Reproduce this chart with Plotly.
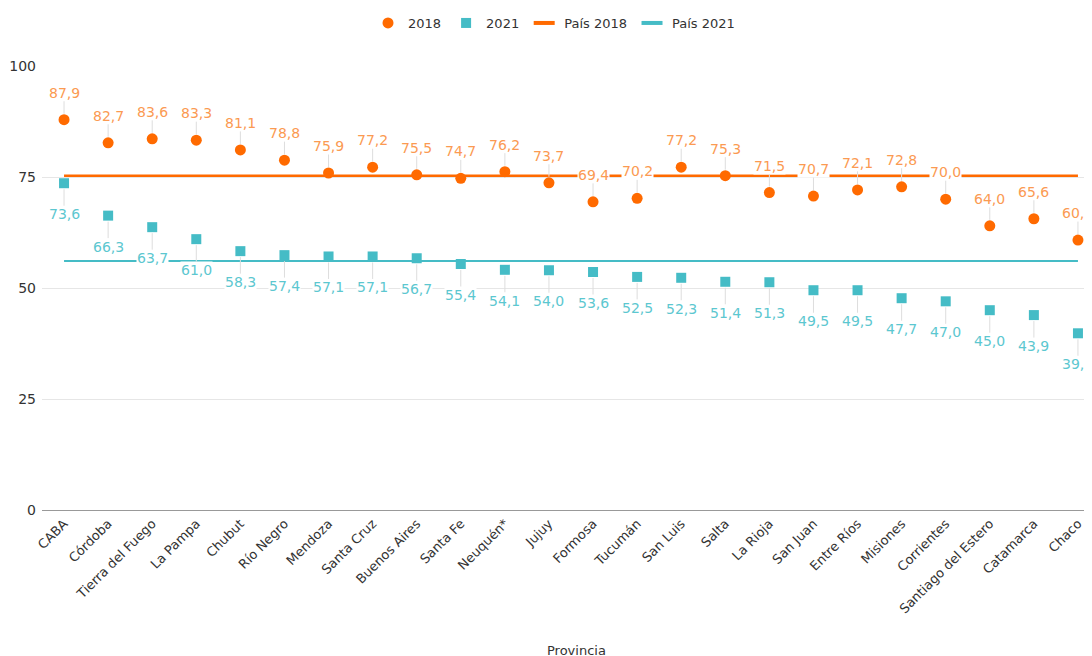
import plotly.graph_objects as go

provincias = ["CABA", "Córdoba", "Tierra del Fuego", "La Pampa", "Chubut", "Río Negro",
              "Mendoza", "Santa Cruz", "Buenos Aires", "Santa Fe", "Neuquén*", "Jujuy",
              "Formosa", "Tucumán", "San Luis", "Salta", "La Rioja", "San Juan",
              "Entre Ríos", "Misiones", "Corrientes", "Santiago del Estero", "Catamarca", "Chaco"]
v2018 = [87.9, 82.7, 83.6, 83.3, 81.1, 78.8, 75.9, 77.2, 75.5, 74.7, 76.2, 73.7,
         69.4, 70.2, 77.2, 75.3, 71.5, 70.7, 72.1, 72.8, 70.0, 64.0, 65.6, 60.8]
v2021 = [73.6, 66.3, 63.7, 61.0, 58.3, 57.4, 57.1, 57.1, 56.7, 55.4, 54.1, 54.0,
         53.6, 52.5, 52.3, 51.4, 51.3, 49.5, 49.5, 47.7, 47.0, 45.0, 43.9, 39.8]
pais2018 = 75.3
pais2021 = 56.1
y_ticks = [0, 25, 50, 75, 100]

ORANGE = "#ff6a00"
TEAL = "#45bcc6"
ORANGE_LBL = "#fb9a52"
TEAL_LBL = "#5cc7d0"
FONT = "DejaVu Sans"

fig = go.Figure()

# average lines (legend entries are given by short-dash proxies below)
fig.add_trace(go.Scatter(x=[provincias[0], provincias[-1]], y=[pais2018, pais2018],
                         mode="lines", name="País 2018", showlegend=False,
                         line=dict(color=ORANGE, width=2.5), hoverinfo="skip"))
fig.add_trace(go.Scatter(x=[provincias[0], provincias[-1]], y=[pais2021, pais2021],
                         mode="lines", name="País 2021", showlegend=False,
                         line=dict(color=TEAL, width=2), hoverinfo="skip"))
fig.add_trace(go.Scatter(x=provincias, y=v2018, mode="markers", name="2018", legendrank=1,
                         marker=dict(symbol="circle", size=11, color=ORANGE,
                                     line=dict(width=0))))
fig.add_trace(go.Scatter(x=provincias, y=v2021, mode="markers", name="2021", legendrank=2,
                         marker=dict(symbol="square", size=10, color=TEAL,
                                     line=dict(width=0))))
fig.add_trace(go.Scatter(x=[None], y=[None], mode="markers", name="País 2018", legendrank=3,
                         marker=dict(symbol="line-ew", size=15,
                                     line=dict(color=ORANGE, width=4))))
fig.add_trace(go.Scatter(x=[None], y=[None], mode="markers", name="País 2021", legendrank=4,
                         marker=dict(symbol="line-ew", size=15,
                                     line=dict(color=TEAL, width=4))))

def fmt(v):
    return f"{v:.1f}".replace(".", ",")

annotations = []
for p, v in zip(provincias, v2018):
    annotations.append(dict(x=p, y=v, xref="x", yref="y", text=fmt(v), showarrow=True,
                            arrowhead=0, arrowwidth=1, arrowcolor="#dddddd",
                            ax=0, ay=-27, standoff=6, bgcolor="white", borderpad=0,
                            font=dict(family=FONT, size=14, color=ORANGE_LBL)))
for p, v in zip(provincias, v2021):
    annotations.append(dict(x=p, y=v, xref="x", yref="y", text=fmt(v), showarrow=True,
                            arrowhead=0, arrowwidth=1, arrowcolor="#dddddd",
                            ax=0, ay=31, standoff=6, bgcolor="white", borderpad=0,
                            font=dict(family=FONT, size=14, color=TEAL_LBL)))
annotations.append(dict(x=0.5, y=-0.316, xref="paper", yref="paper", text="Provincia",
                        showarrow=False, yanchor="middle", xshift=5,
                        font=dict(family=FONT, size=13, color="#333333")))

# page body adds an 8px offset; margins compensate so the plot area lands where the reference has it
fig.update_layout(
    width=1092, height=656,
    margin=dict(l=34, r=0, t=58, b=154),
    paper_bgcolor="white", plot_bgcolor="white",
    font=dict(family=FONT, size=13, color="#333333"),
    showlegend=True,
    legend=dict(orientation="h", xref="container", x=0.5, xanchor="center",
                yref="container", y=1 - 15 / 656, yanchor="middle",
                font=dict(family=FONT, size=13, color="#333333"), itemwidth=30,
                traceorder="normal"),
    annotations=annotations,
)
fig.update_xaxes(type="category", categoryorder="array", categoryarray=provincias,
                 range=[-0.5, 23.5], tickangle=-45, automargin=False,
                 showgrid=False, showline=True, linecolor="#999999", linewidth=1,
                 ticks="", tickfont=dict(family=FONT, size=13, color="#333333"))
fig.update_yaxes(range=[0, 100], tickvals=y_ticks, showgrid=True, gridcolor="#e6e6e6",
                 gridwidth=1, zeroline=False, showline=False, ticks="", automargin=False,
                 ticklabelstandoff=5,
                 tickfont=dict(family=FONT, size=14, color="#333333"))

fig.write_html("out.html")
